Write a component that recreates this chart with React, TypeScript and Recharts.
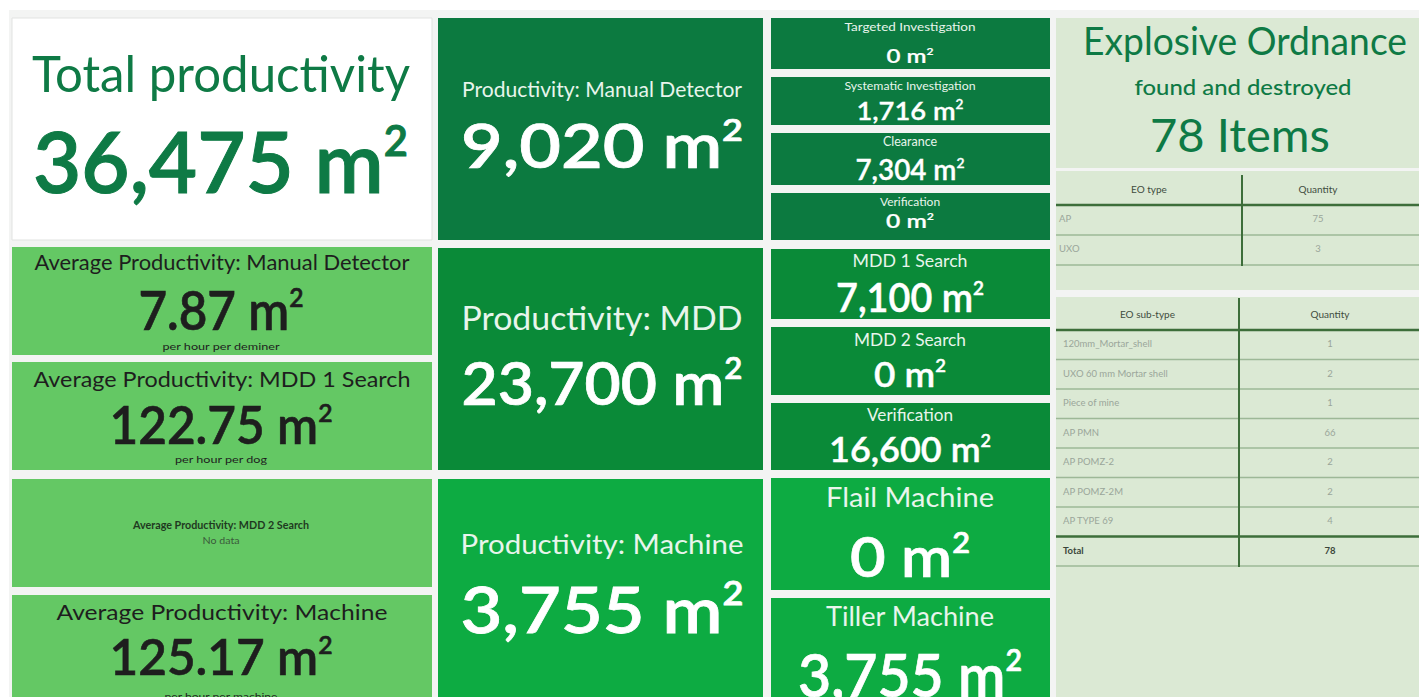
import React from "react";
import { Surface, Layer, Rectangle } from "recharts";

const W = 1419;
const H = 697;
const FONT = "Lato, 'Noto Sans', sans-serif";

// ---- data ----
const totalTitle = "Total productivity";
const totalProductivity = 36475;

const methodTitles = ["Productivity: Manual Detector", "Productivity: MDD", "Productivity: Machine"];
const methodValues = [9020, 23700, 3755];

const manualTitles = ["Targeted Investigation", "Systematic Investigation", "Clearance", "Verification"];
const manualValues = [0, 1716, 7304, 0];
const mddTitles = ["MDD 1 Search", "MDD 2 Search", "Verification"];
const mddValues = [7100, 0, 16600];
const machineTitles = ["Flail Machine", "Tiller Machine"];
const machineValues = [0, 3755];

const avgTitles = [
  "Average Productivity: Manual Detector",
  "Average Productivity: MDD 1 Search",
  "Average Productivity: MDD 2 Search",
  "Average Productivity: Machine",
];
const avgValues: (number | null)[] = [7.87, 122.75, null, 125.17];
const avgUnits = ["per hour per deminer", "per hour per dog", "", "per hour per machine"];

const eoHeading = ["Explosive Ordnance", "found and destroyed"];
const eoItems = 78;
const eoTypes = ["AP", "UXO"];
const eoTypeQty = [75, 3];
const eoSubTypes = [
  "120mm_Mortar_shell",
  "UXO 60 mm Mortar shell",
  "Piece of mine",
  "AP PMN",
  "AP POMZ-2",
  "AP POMZ-2M",
  "AP TYPE 69",
];
const eoSubQty = [1, 2, 1, 66, 2, 2, 4];

// ---- colours ----
const DARK = "#0c7a40";
const MDD = "#0a8a38";
const MACH = "#0dab42";
const AVG = "#64c864";
const PALE = "#dbe9d4";
const INK = "#0e7a45";
const LIGHT_TXT = "#e8f5ec";

const fmt = (v: number) => v.toLocaleString("en-US");

function Label(props: {
  cx: number; y: number; size: number; w?: number; color: string; weight?: number; thicken?: number;
  children: React.ReactNode;
}) {
  const { cx, y, size, w, color, weight = 400, thicken = 0, children } = props;
  return (
    <text
      x={cx}
      y={y}
      textAnchor="middle"
      fontFamily={FONT}
      fontSize={size}
      fontWeight={weight}
      fill={color}
      stroke={thicken ? color : undefined}
      strokeWidth={thicken || undefined}
      textLength={w}
      lengthAdjust={w ? "spacingAndGlyphs" : undefined}
    >
      {children}
    </text>
  );
}

// area value with the superscript 2
function Area(props: { cx: number; y: number; size: number; w: number; value: number; color: string }) {
  const { cx, y, size, w, value, color } = props;
  return (
    <Label cx={cx} y={y} size={size} w={w} color={color} weight={600} thicken={size * 0.012}>
      {fmt(value)} m
      <tspan fontSize={size * 0.5} dy={-size * 0.43}>2</tspan>
    </Label>
  );
}

// tile layouts (positions only)
const avgLayout = [
  { y: 247, h: 108, tY: 270, tS: 21, tW: 375, vY: 330, vS: 53, vW: 165, uY: 350, uW: 117 },
  { y: 362, h: 108, tY: 387, tS: 21, tW: 377, vY: 444, vS: 51, vW: 223, uY: 463, uW: 92 },
  { y: 479, h: 108, tY: 529, tS: 10.5, tW: 176, vY: 544, vS: 10, vW: 37, uY: 0, uW: 0 },
  { y: 595, h: 110, tY: 620, tS: 21, tW: 331, vY: 675, vS: 49, vW: 223, uY: 700, uW: 113 },
];

const methodLayout = [
  { y: 18, h: 222, fill: DARK, tY: 97, tS: 21, tW: 280, vY: 168, vS: 62, vW: 282 },
  { y: 248, h: 222, fill: MDD, tY: 330, tS: 32, tW: 281, vY: 405, vS: 60, vW: 281 },
  { y: 479, h: 230, fill: MACH, tY: 554, tS: 26, tW: 283, vY: 633, vS: 64, vW: 283 },
];

const subTitles = [...manualTitles, ...mddTitles, ...machineTitles];
const subValues = [...manualValues, ...mddValues, ...machineValues];
const subLayout = [
  { y: 18, h: 51, fill: DARK, tY: 31, tS: 11, tW: 131, vY: 63, vS: 18.5, vW: 47 },
  { y: 77, h: 48, fill: DARK, tY: 90, tS: 11, tW: 131, vY: 120, vS: 25, vW: 107 },
  { y: 133, h: 52, fill: DARK, tY: 146, tS: 12.5, tW: 0, vY: 180, vS: 28, vW: 109 },
  { y: 193, h: 47, fill: DARK, tY: 206, tS: 12, tW: 0, vY: 228, vS: 19, vW: 48 },
  { y: 249, h: 70, fill: MDD, tY: 267, tS: 17, tW: 115, vY: 312, vS: 40, vW: 148 },
  { y: 327, h: 68, fill: MDD, tY: 346, tS: 17, tW: 112, vY: 387, vS: 35, vW: 72 },
  { y: 403, h: 67, fill: MDD, tY: 421, tS: 17, tW: 86, vY: 462, vS: 35, vW: 162 },
  { y: 478, h: 112, fill: MACH, tY: 507, tS: 27, tW: 168, vY: 577, vS: 56, vW: 120 },
  { y: 598, h: 110, fill: MACH, tY: 626, tS: 27, tW: 168, vY: 697, vS: 60, vW: 224 },
];

const LINE_DARK = "#3d6e3a";
const LINE_SOFT = "#9db897";

function EoTable(props: {
  top: number; headBottom: number; rowH: number; split: number; qtyX: number; textX: number;
  head: string; rows: string[]; qty: number[]; total?: number;
}) {
  const { top, headBottom, rowH, split, qtyX, textX, head, rows, qty, total } = props;
  const hasTotal = total !== undefined;
  const all = hasTotal ? [...rows, "Total"] : rows;
  const allQty = hasTotal ? [...qty, total as number] : qty;
  const bottom = headBottom + rowH * all.length;
  const nameX = (1056 + split) / 2;
  return (
    <Layer>
      <Label cx={nameX} y={headBottom - 12} size={10} color="#3f4d3f">{head}</Label>
      <Label cx={qtyX} y={headBottom - 12} size={10} color="#3f4d3f">Quantity</Label>
      <line x1={1056} x2={W} y1={headBottom} y2={headBottom} stroke={LINE_DARK} strokeWidth={2.5} />
      {all.map((r, i) => {
        const y0 = headBottom + rowH * i;
        const isTotal = hasTotal && i === all.length - 1;
        const beforeTotal = hasTotal && i === all.length - 2;
        return (
          <Layer key={r}>
            <text x={textX} y={y0 + 17} fontFamily={FONT} fontSize={9.5}
              fontWeight={isTotal ? 700 : 400} fill={isTotal ? "#3a463a" : "#9aa69a"}>{r}</text>
            <Label cx={qtyX} y={y0 + 17} size={9.5} weight={isTotal ? 700 : 400}
              color={isTotal ? "#3a463a" : "#9aa69a"}>{allQty[i]}</Label>
            <line x1={1056} x2={W} y1={y0 + rowH} y2={y0 + rowH}
              stroke={beforeTotal ? LINE_DARK : LINE_SOFT}
              strokeWidth={beforeTotal ? 2.5 : 1.5} />
          </Layer>
        );
      })}
      <line x1={split} x2={split} y1={top} y2={bottom + 1} stroke={LINE_DARK} strokeWidth={2} />
    </Layer>
  );
}

export default function App() {
  return (
    <div style={{ position: "absolute", left: 0, top: 0, width: W, height: H, background: "#fff", overflow: "hidden" }}>
      <Surface width={W} height={H}>
        <rect x={9} y={10} width={W} height={H} fill="#f3f4f3" />

        {/* column 1: total + averages */}
        <Rectangle x={12} y={18} width={420} height={222} fill="#fff" stroke="#e1e3e1" />
        <Label cx={221} y={92} size={51} w={378} color={INK}>{totalTitle}</Label>
        <Area cx={220.5} y={193} size={85} w={375} value={totalProductivity} color={INK} />

        {avgLayout.map((l, i) => {
          const v = avgValues[i];
          return (
            <Layer key={avgTitles[i]}>
              <Rectangle x={12} y={l.y} width={420} height={l.h} fill={AVG} />
              {v === null ? (
                <>
                  <Label cx={221} y={l.tY} size={l.tS} w={l.tW} color="#1f3a1f" weight={700}>{avgTitles[i]}</Label>
                  <Label cx={221} y={l.vY} size={l.vS} w={l.vW} color="#3b5a3b">No data</Label>
                </>
              ) : (
                <>
                  <Label cx={222} y={l.tY} size={l.tS} w={l.tW} color="#1e1e1e">{avgTitles[i]}</Label>
                  <Area cx={221} y={l.vY} size={l.vS} w={l.vW} value={v} color="#1e1e1e" />
                  <Label cx={221} y={l.uY} size={9.5} w={l.uW} color="#1e1e1e">{avgUnits[i]}</Label>
                </>
              )}
            </Layer>
          );
        })}

        {/* column 2: productivity per method */}
        {methodLayout.map((l, i) => (
          <Layer key={methodTitles[i]}>
            <Rectangle x={438} y={l.y} width={325} height={l.h} fill={l.fill} />
            <Label cx={602} y={l.tY} size={l.tS} w={l.tW} color={LIGHT_TXT}>{methodTitles[i]}</Label>
            <Area cx={602} y={l.vY} size={l.vS} w={l.vW} value={methodValues[i]} color="#fff" />
          </Layer>
        ))}

        {/* column 3: breakdown */}
        {subLayout.map((l, i) => (
          <Layer key={i}>
            <Rectangle x={771} y={l.y} width={279} height={l.h} fill={l.fill} />
            <Label cx={910} y={l.tY} size={l.tS} w={l.tW || undefined} color={LIGHT_TXT}>{subTitles[i]}</Label>
            <Area cx={910} y={l.vY} size={l.vS} w={l.vW} value={subValues[i]} color="#fff" />
          </Layer>
        ))}

        {/* column 4: explosive ordnance */}
        <Rectangle x={1056} y={18} width={380} height={150} fill={PALE} />
        <Label cx={1245} y={55} size={38} w={324} color={INK}>{eoHeading[0]}</Label>
        <Label cx={1243} y={95} size={21} w={217} color={INK} weight={500}>{eoHeading[1]}</Label>
        <Label cx={1240} y={152} size={47} w={180} color={INK}>{`${eoItems} Items`}</Label>

        <Rectangle x={1056} y={171} width={380} height={119} fill={PALE} />
        <EoTable top={175} headBottom={205} rowH={30} split={1242} qtyX={1318} textX={1059}
          head="EO type" rows={eoTypes} qty={eoTypeQty} />

        <Rectangle x={1056} y={297} width={380} height={410} fill={PALE} />
        <EoTable top={298} headBottom={330} rowH={29.5} split={1239} qtyX={1330} textX={1063}
          head="EO sub-type" rows={eoSubTypes} qty={eoSubQty} total={eoItems} />
      </Surface>
    </div>
  );
}
